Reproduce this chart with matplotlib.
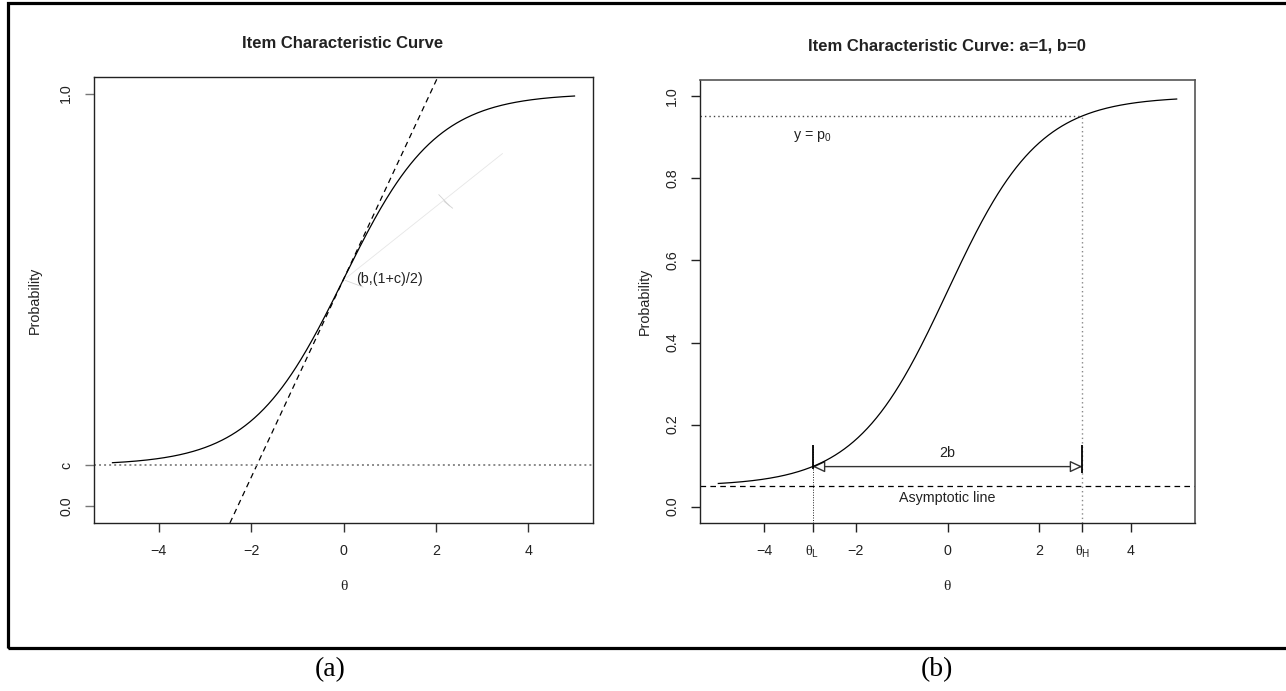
import numpy as np
import matplotlib
matplotlib.use('Agg')
import matplotlib.pyplot as plt
from matplotlib.patches import Rectangle, FancyArrowPatch

plt.rcParams['font.family'] = ['Liberation Sans', 'DejaVu Sans']
plt.rcParams['mathtext.fontset'] = 'custom'
plt.rcParams['mathtext.rm'] = 'Liberation Serif'
plt.rcParams['mathtext.sf'] = 'Liberation Sans'
plt.rcParams['mathtext.it'] = 'Liberation Sans:italic'

# ---------------- data: panel (a) ----------------
a_title = "Item Characteristic Curve"
a_disc, a_diff, a_guess = 1.0, 0.0, 0.1
a_theta_min, a_theta_max = -5.0, 5.0
a_tangent_slope = 0.24
a_xticks = [-4, -2, 0, 2, 4]
a_xticklabels = ['\u22124', '\u22122', '0', '2', '4']
a_yticks = [0.0, 0.1, 1.0]
a_yticklabels = ['0.0', 'c', '1.0']
a_point_label = '(b,(1+c)/2)'

# ---------------- data: panel (b) ----------------
b_title = "Item Characteristic Curve: a=1, b=0"
b_disc, b_diff, b_guess = 1.0, 0.0, 0.05
b_theta_min, b_theta_max = -5.0, 5.0
b_theta_L, b_theta_H = -2.944, 2.944
b_p0 = 0.9525
b_bar_top = 0.15
b_xticks = [-4, b_theta_L, -2, 0, 2, b_theta_H, 4]
b_xticklabels = ['\u22124', r'$\mathrm{\theta}_{\mathsf{L}}$', '\u22122', '0', '2',
                 r'$\mathrm{\theta}_{\mathsf{H}}$', '4']
b_yticks = [0.0, 0.2, 0.4, 0.6, 0.8, 1.0]
b_yticklabels = ['0.0', '0.2', '0.4', '0.6', '0.8', '1.0']

xlim = (-5.4, 5.4)
ylim = (-0.04, 1.04)


def icc(t, a, b, c):
    return c + (1 - c) / (1 + np.exp(-a * (t - b)))


W, H = 1286, 691
fig = plt.figure(figsize=(W / 100, H / 100), dpi=100)


def fxy(px, py):
    return px / W, 1 - py / H


axA = fig.add_axes([94 / W, 1 - 523 / H, 499 / W, 446 / H])
axB = fig.add_axes([700 / W, 1 - 523 / H, 495 / W, 443 / H])

DASH = (0, (4.5, 3.4))
DOT = (0, (1, 2.2))

for ax in (axA, axB):
    ax.set_xlim(*xlim)
    ax.set_ylim(*ylim)
    for s in ax.spines.values():
        s.set_color('#222222')
        s.set_linewidth(1.0)
for side in ('top', 'right'):
    axB.spines[side].set_color('#555555')
    axB.spines[side].set_linewidth(1.2)

# ---------- panel (a) ----------
tA = np.linspace(a_theta_min, a_theta_max, 401)
axA.plot(tA, icc(tA, a_disc, a_diff, a_guess), color='black', lw=0.9)
mid = (1 + a_guess) / 2
axA.axline((a_diff, mid), slope=a_tangent_slope, color='black', lw=0.9, ls=DASH)
axA.axhline(a_guess, color='#8a8a8a', lw=1.4, ls=(0, (1, 1.6)))
axA.text(0.28, mid, a_point_label, fontsize=10.3, color='#222222', ha='left', va='center')
# faint leader
axA.annotate('', xy=(0.02, mid), xytext=(3.49, 0.859),
             arrowprops=dict(arrowstyle='-', color='#e6e6e6', lw=0.6))
axA.annotate('', xy=(2.02, 0.76), xytext=(2.34, 0.723),
             arrowprops=dict(arrowstyle='-', color='#d2d2d2', lw=0.6))
axA.annotate('', xy=(2.13, 0.743), xytext=(2.41, 0.718),
             arrowprops=dict(arrowstyle='-', color='#d2d2d2', lw=0.6))
axA.annotate('', xy=(-0.02, mid), xytext=(0.48, 0.529),
             arrowprops=dict(arrowstyle='-', color='#d8d8d8', lw=0.6))

axA.set_xticks(a_xticks)
axA.set_xticklabels(a_xticklabels)
axA.set_yticks(a_yticks)
axA.set_yticklabels(a_yticklabels, rotation=90, va='center')
axA.tick_params(axis='y', length=6.5, width=1.0, color='#777777', pad=8.5,
                labelsize=10.3, labelcolor='#222222')
axA.tick_params(axis='x', length=6.5, width=1.0, color='#333333', pad=8.5,
                labelsize=10.3, labelcolor='#222222')

# ---------- panel (b) ----------
tB = np.linspace(b_theta_min, b_theta_max, 401)
axB.plot(tB, icc(tB, b_disc, b_diff, b_guess), color='black', lw=0.9)
axB.axhline(b_guess, color='black', lw=0.9, ls=DASH)
yL = icc(b_theta_L, b_disc, b_diff, b_guess)
axB.hlines(b_p0, xlim[0], b_theta_H, color='#444444', lw=1.0, ls=DOT)
axB.vlines(b_theta_H, ylim[0], b_p0, color='#888888', lw=1.0, ls=DOT)
axB.vlines(b_theta_L, ylim[0], b_bar_top, color='#222222', lw=0.7, ls=(0, (1, 1.6)))
axB.vlines(b_theta_L, yL - 0.005, b_bar_top, color='black', lw=1.3)
axB.vlines(b_theta_H, yL - 0.015, b_bar_top, color='black', lw=1.3)
arr = FancyArrowPatch((b_theta_L, yL), (b_theta_H, yL),
                      arrowstyle='<|-|>,head_length=0.75,head_width=0.35',
                      mutation_scale=10, fc='white', ec='#333333', lw=1.0,
                      shrinkA=0, shrinkB=0)
axB.add_patch(arr)
axB.text(0, 0.13, '2b', fontsize=10.3, color='#222222', ha='center', va='center')
axB.text(0, 0.022, 'Asymptotic line', fontsize=10.3, color='#222222', ha='center', va='center')
axB.text(-2.95, 0.902, r'y = $\mathregular{p_0}$', fontsize=10.3, color='#222222',
         ha='center', va='center')

axB.set_xticks(b_xticks)
axB.set_xticklabels(b_xticklabels)
axB.set_yticks(b_yticks)
axB.set_yticklabels(b_yticklabels, rotation=90, va='center')
axB.tick_params(length=6.5, width=1.0, color='#222222', pad=8.5,
                labelsize=10.3, labelcolor='#222222')

# ---------- titles / labels ----------
fig.text(*fxy(343, 43), a_title, fontsize=12, fontweight='bold', color='#222222',
         ha='center', va='center')
fig.text(*fxy(947, 46), b_title, fontsize=12, fontweight='bold', color='#222222',
         ha='center', va='center')
fig.text(*fxy(35, 300), 'Probability', fontsize=10.3, rotation=90, color='#222222',
         ha='center', va='center')
fig.text(*fxy(645, 301), 'Probability', fontsize=10.3, rotation=90, color='#222222',
         ha='center', va='center')
fig.text(*fxy(344, 587), '\u03b8', fontsize=11, family='Liberation Serif', color='#222222',
         ha='center', va='center')
fig.text(*fxy(947, 587), '\u03b8', fontsize=11, family='Liberation Serif', color='#222222',
         ha='center', va='center')
fig.text(*fxy(330, 670), '(a)', fontsize=20, family='Liberation Serif', color='black',
         ha='center', va='center')
fig.text(*fxy(937, 670), '(b)', fontsize=20, family='Liberation Serif', color='black',
         ha='center', va='center')

# outer frame
x0, y0 = fxy(8, 648)
fig.add_artist(Rectangle((x0, y0), (1320 - 8) / W, (648 - 3) / H, transform=fig.transFigure,
                         fill=False, ec='black', lw=2.3, clip_on=False))

fig.savefig('out.png', dpi=100)
